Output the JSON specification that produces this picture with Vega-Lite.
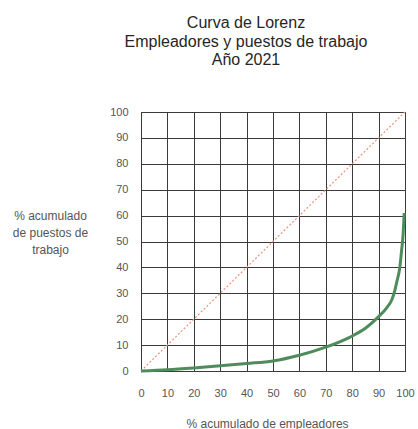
{
  "$schema": "https://vega.github.io/schema/vega-lite/v6.json",
  "width": 264,
  "height": 259,
  "autosize": {"type": "none"},
  "padding": {"left": 141, "top": 112, "right": 13, "bottom": 58},
  "background": "white",
  "config": {
    "font": "Liberation Sans",
    "view": {"stroke": "#333333", "strokeWidth": 1}
  },
  "title": {
    "text": ["Curva de Lorenz", "Empleadores y puestos de trabajo", "Año 2021"],
    "fontSize": 16,
    "fontWeight": "normal",
    "color": "#262626",
    "anchor": "middle",
    "dx": -27,
    "offset": 38,
    "lineHeight": 18.5
  },
  "datasets": {
    "lorenz": [
      {"emp": 0, "puestos": 0},
      {"emp": 10, "puestos": 0.5},
      {"emp": 20, "puestos": 1.2},
      {"emp": 30, "puestos": 2},
      {"emp": 40, "puestos": 2.9},
      {"emp": 50, "puestos": 3.9},
      {"emp": 60, "puestos": 6.1},
      {"emp": 70, "puestos": 9.2},
      {"emp": 79, "puestos": 13},
      {"emp": 85, "puestos": 16.5},
      {"emp": 90, "puestos": 21},
      {"emp": 93, "puestos": 24.3},
      {"emp": 95, "puestos": 27.5},
      {"emp": 96, "puestos": 30.5},
      {"emp": 96.8, "puestos": 34},
      {"emp": 98.1, "puestos": 40.5},
      {"emp": 98.7, "puestos": 46.5},
      {"emp": 99.3, "puestos": 53},
      {"emp": 99.7, "puestos": 61}
    ],
    "igualdad": [
      {"emp": 0, "puestos": 0},
      {"emp": 100, "puestos": 100}
    ]
  },
  "encoding": {
    "x": {
      "field": "emp", "type": "quantitative",
      "scale": {"type": "linear", "domain": [0, 100], "nice": false, "zero": true},
      "axis": {
        "tickCount": 10,
        "tickMinStep": 10,
        "title": "% acumulado de empleadores",
        "titleFontSize": 12,
        "titleFontWeight": "normal",
        "titleColor": "#555555",
        "titleX": 126,
        "titleY": 52,
        "titleAlign": "center",
        "titleBaseline": "middle",
        "labelFontSize": 11,
        "labelColor": "#555555",
        "labelPadding": 16,
        "labelOverlap": false,
        "labelFlush": false,
        "ticks": false,
        "domain": false,
        "grid": true,
        "gridColor": "#3a3a3a",
        "gridOpacity": 1,
        "gridWidth": 1
      }
    },
    "y": {
      "field": "puestos", "type": "quantitative",
      "scale": {"type": "linear", "domain": [0, 100], "nice": false, "zero": true},
      "axis": {
        "tickCount": 10,
        "tickMinStep": 10,
        "title": ["% acumulado", "de puestos de", "trabajo"],
        "titleAngle": 0,
        "titleFontSize": 12,
        "titleFontWeight": "normal",
        "titleColor": "#555555",
        "titleX": -91,
        "titleY": 103,
        "titleAlign": "center",
        "titleBaseline": "middle",
        "titleLineHeight": 17,
        "labelFontSize": 11,
        "labelColor": "#555555",
        "labelPadding": 13,
        "labelOverlap": false,
        "labelFlush": false,
        "ticks": false,
        "domain": false,
        "grid": true,
        "gridColor": "#3a3a3a",
        "gridOpacity": 1,
        "gridWidth": 1
      }
    }
  },
  "layer": [
    {
      "data": {"name": "igualdad"},
      "mark": {"type": "line", "color": "#f0907c", "strokeWidth": 1.2, "strokeDash": [2, 2]}
    },
    {
      "data": {"name": "lorenz"},
      "mark": {"type": "line", "color": "#4e8c5c", "strokeWidth": 3, "interpolate": "monotone"}
    }
  ]
}
